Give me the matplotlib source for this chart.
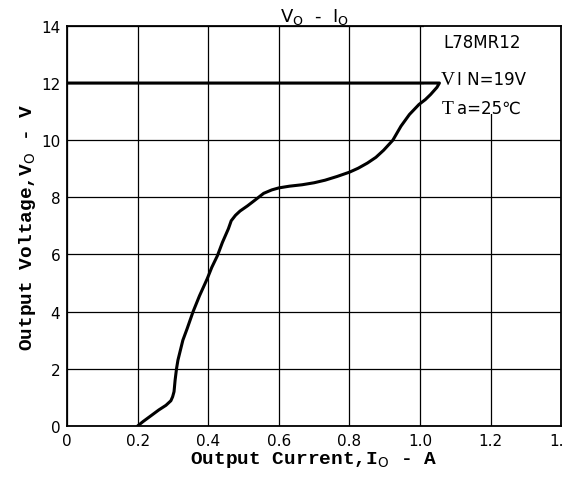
import numpy as np
import matplotlib.pyplot as plt
from matplotlib.patches import Rectangle

# output current (A) and output voltage (V)
i_out = [0.0, 0.3, 0.6, 0.9, 1.055,
         1.048, 1.03, 1.015, 0.997, 0.97, 0.946, 0.923, 0.897, 0.875, 0.851,
         0.825, 0.8, 0.765, 0.731, 0.7, 0.666, 0.63, 0.6, 0.58,
         0.557, 0.53, 0.511, 0.49, 0.477, 0.465, 0.457, 0.44, 0.426, 0.41,
         0.397, 0.375, 0.357, 0.34, 0.328, 0.32, 0.314, 0.31, 0.306,
         0.303, 0.299, 0.294, 0.28, 0.26, 0.237, 0.215, 0.2]
v_out = [12.0, 12.0, 12.0, 12.0, 12.0,
         11.85, 11.6, 11.42, 11.25, 10.9, 10.49, 10.0, 9.65, 9.4, 9.2,
         9.02, 8.88, 8.73, 8.6, 8.51, 8.44, 8.39, 8.33, 8.26,
         8.14, 7.88, 7.7, 7.52, 7.37, 7.18, 6.9, 6.42, 5.96, 5.55,
         5.15, 4.55, 4.0, 3.4, 3.0, 2.6, 2.3, 2.0, 1.6,
         1.2, 1.02, 0.88, 0.72, 0.56, 0.35, 0.15, 0.0]

x_ticks = [0, 0.2, 0.4, 0.6, 0.8, 1.0, 1.2, 1.4]
x_labels = ['0', '0.2', '0.4', '0.6', '0.8', '1.0', '1.2', '1.4']
y_ticks = [0, 2, 4, 6, 8, 10, 12, 14]

plt.rcParams['mathtext.fontset'] = 'custom'
plt.rcParams['mathtext.rm'] = 'DejaVu Sans'

fig = plt.figure(figsize=(5.64, 4.89), dpi=100)
ax = fig.add_axes([0.119, 0.127, 0.876, 0.818])

ax.plot(i_out, v_out, color='black', lw=2.2, solid_capstyle='round',
        solid_joinstyle='round', zorder=4)

ax.set_xlim(0, 1.4)
ax.set_ylim(0, 14)
ax.set_xticks(x_ticks)
ax.set_xticklabels(x_labels)
ax.set_yticks(y_ticks)
ax.tick_params(length=0, pad=5, labelsize=11)
ax.grid(True, color='black', lw=0.9, zorder=1)
for s in ax.spines.values():
    s.set_linewidth(1.3)

# blank area behind the note text
ax.add_patch(Rectangle((1.012, 10.9), 0.39, 3.1, facecolor='white',
                       edgecolor='none', zorder=2))
ax.text(1.065, 13.25, 'L78MR12', fontsize=12, family='DejaVu Sans', zorder=5)
ax.text(1.06, 11.95, 'V', fontsize=14, family='Liberation Serif', zorder=5)
ax.text(1.105, 11.97, 'I N=19V', fontsize=12, family='DejaVu Sans', zorder=5)
ax.text(1.06, 10.95, 'T', fontsize=14, family='Liberation Serif', zorder=5)
ax.text(1.105, 10.95, 'a=25\u2103', fontsize=12, family='DejaVu Sans', zorder=5)

ax.set_title(r'V$_\mathrm{O}$  -  I$_\mathrm{O}$', fontsize=13, pad=3)
ax.set_xlabel(r'Output Current,I$_\mathrm{O}$ - A', family='Liberation Mono',
              fontweight='bold', fontsize=14, labelpad=1)
ax.set_ylabel(r'Output Voltage,V$_\mathrm{O}$ - V', family='Liberation Mono',
              fontweight='bold', fontsize=14, labelpad=2)

plt.savefig('out.png', dpi=100)
